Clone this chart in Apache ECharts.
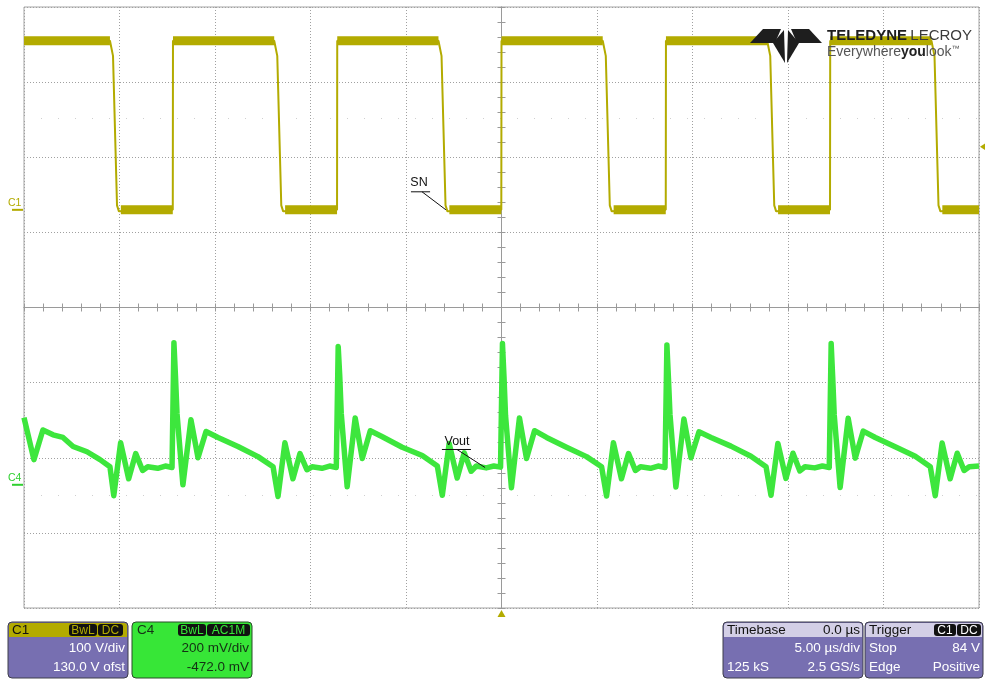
<!DOCTYPE html>
<html><head><meta charset="utf-8">
<script src="https://cdn.jsdelivr.net/npm/echarts@6/dist/echarts.min.js"></script>
<style>html,body{margin:0;padding:0;background:#fff;}#c{width:985px;height:679px;}</style>
</head><body><div id="c"></div>
<script>
// ---------- scope settings ----------
const timeMin = -25, timeMax = 25;          // µs (5.00 µs/div, 10 div)
const c1VoltsPerDiv = 100, c1OffsetV = 130; // C1: 100 V/div, 130.0 V ofst
const c4MvPerDiv = 200, c4OffsetMv = -472;  // C4: 200 mV/div, -472.0 mV
const triggerLevelV = 84;                   // trigger 84 V
const triggerTime = 0;

// ---------- C1 (switch node, V) ----------
const c1Time = [-25, -20.50, -20.34, -20.13, -20.03, -19.93, -17.21, -17.20,
  -11.90, -11.74, -11.53, -11.43, -11.33, -8.61, -8.60,
  -3.30, -3.14, -2.93, -2.83, -2.73, -0.01, 0.00,
  5.30, 5.46, 5.67, 5.77, 5.87, 8.60, 8.61,
  13.91, 14.07, 14.28, 14.38, 14.48, 17.20, 17.21,
  22.51, 22.67, 22.88, 22.98, 23.08, 25];
const c1Volt = [225, 225, 205, 6, -2, 0, 0, 225,
  225, 205, 6, -2, 0, 0, 225,
  225, 205, 6, -2, 0, 0, 225,
  225, 205, 6, -2, 0, 0, 225,
  225, 205, 6, -2, 0, 0, 225,
  225, 205, 6, -2, 0, 0];
const c1Levels = [225, 0];

// ---------- C4 (Vout ripple, mV) ----------
const c4Time = [-25.00, -24.48, -24.01, -23.48, -22.96, -22.43, -21.70, -21.02, -20.50,
  -20.30, -19.94, -19.52, -19.15, -18.79, -18.52, -18.00, -17.60, -17.25,
  -17.20, -17.15, -17.07, -16.99, -16.68, -16.26, -15.89, -15.47, -14.84, -13.80, -12.75, -11.96,
  -11.70, -11.34, -10.92, -10.55, -10.19, -9.92, -9.40, -9.00, -8.65,
  -8.60, -8.55, -8.47, -8.39, -8.08, -7.66, -7.29, -6.87, -6.24, -5.20, -4.15, -3.36,
  -3.10, -2.74, -2.32, -1.95, -1.59, -1.32, -0.80, -0.40, -0.05,
  0.00, 0.05, 0.13, 0.21, 0.52, 0.94, 1.31, 1.73, 2.36, 3.40, 4.45, 5.24,
  5.50, 5.86, 6.28, 6.65, 7.01, 7.28, 7.80, 8.20, 8.56,
  8.61, 8.66, 8.74, 8.82, 9.13, 9.55, 9.92, 10.34, 10.97, 12.01, 13.06, 13.85,
  14.11, 14.47, 14.89, 15.26, 15.62, 15.89, 16.40, 16.80, 17.16,
  17.21, 17.26, 17.34, 17.42, 17.73, 18.15, 18.52, 18.94, 19.57, 20.61, 21.66, 22.45,
  22.71, 23.07, 23.49, 23.86, 24.22, 24.49, 25.00];
const c4Mv = [179, 67, 146, 133, 126, 102, 88, 67, 48,
  -29, 112, 16, 83, 38, 48, 44, 50, 46,
  46, 378, 290, 190, 0, 173, 72, 142, 126, 102, 75, 48,
  -31, 112, 16, 83, 40, 48, 44, 50, 46,
  46, 368, 290, 190, -5, 178, 70, 144, 128, 100, 78, 50,
  -28, 110, 18, 85, 36, 50, 45, 50, 47,
  47, 376, 288, 185, -8, 178, 70, 144, 126, 100, 75, 48,
  -30, 112, 16, 83, 38, 48, 44, 50, 46,
  46, 372, 284, 188, -6, 175, 72, 141, 126, 103, 76, 48,
  -28, 110, 17, 84, 37, 48, 45, 50, 46,
  46, 376, 286, 186, -7, 177, 71, 143, 126, 101, 76, 48,
  -29, 111, 16, 84, 38, 48, 50];

// faint reference dots seen on screen
const c1RefV = 122, c4RefMv = -29;

// ---------- annotations ----------
const snLabel = { text: 'SN', at: [-4.32, 36], under: [[-4.74, 24], [-3.74, 24]], leader: [[-4.16, 24], [-2.91, 0]] };
const voutLabel = { text: 'Vout', at: [-2.33, 116], under: [[-3.12, 94], [-1.60, 94]], leader: [[-2.33, 94], [-0.86, 46]] };

// ---------- info boxes text ----------
const c1Info = ['C1', 'BwL', 'DC', '100 V/div', '130.0 V ofst'];
const c4Info = ['C4', 'BwL', 'AC1M', '200 mV/div', '-472.0 mV'];
const tbInfo = ['Timebase', '0.0 µs', '5.00 µs/div', '125 kS', '2.5 GS/s'];
const trigInfo = ['Trigger', 'C1', 'DC', 'Stop', '84 V', 'Edge', 'Positive'];

const C1_COLOR = '#b3ab00';
const C4_COLOR = '#3de63d';
const FONT = '"Liberation Sans", Arial, sans-serif';

const c1Data = c1Time.map((t, i) => [t, c1Volt[i]]);
// thick noise band only on the flat levels, broken wherever the level changes
const c1Band = [];
let lastLevel = null;
c1Time.forEach((t, i) => {
  const v = c1Volt[i];
  if (c1Levels.indexOf(v) >= 0) {
    if (lastLevel !== null && lastLevel !== v) c1Band.push([t, '-']);
    c1Band.push([t, v]);
    lastLevel = v;
  } else {
    if (lastLevel !== null) c1Band.push([t, '-']);
    lastLevel = null;
  }
});
const c4Data = c4Time.map((t, i) => [t, c4Mv[i]]);

const chart = echarts.init(document.getElementById('c'), null, { renderer: 'canvas' });

const divAxisCommon = {
  type: 'value', axisLabel: { show: false },
  minorTick: { show: true, splitNumber: 5, length: 4, lineStyle: { color: '#9a9a9a', width: 1 } }
};
const gridLine = { show: true, lineStyle: { color: '#a0a0a0', width: 1, type: [1, 2] } };

chart.setOption({
  animation: false,
  backgroundColor: '#ffffff',
  grid: { left: 24, top: 7, width: 955, height: 601, show: true, borderColor: '#a4a4a4', borderWidth: 1, backgroundColor: '#fff' },
  xAxis: [
    { type: 'value', min: timeMin, max: timeMax, show: false },
    Object.assign({}, divAxisCommon, { min: -5, max: 5, interval: 1, position: 'bottom',
      axisLine: { show: true, onZero: true, onZeroAxisIndex: 2, lineStyle: { color: '#9a9a9a', width: 1 } },
      axisTick: { show: true, inside: true, length: 4, lineStyle: { color: '#9a9a9a' } }, splitLine: gridLine }),
    Object.assign({}, divAxisCommon, { min: -5, max: 5, interval: 1, position: 'bottom',
      axisLine: { show: true, onZero: true, onZeroAxisIndex: 2, lineStyle: { color: '#9a9a9a', width: 1 } },
      axisTick: { show: true, inside: false, length: 4, lineStyle: { color: '#9a9a9a' } }, splitLine: { show: false } })
  ],
  yAxis: [
    { type: 'value', min: -c1OffsetV - 4 * c1VoltsPerDiv, max: -c1OffsetV + 4 * c1VoltsPerDiv, show: false },
    { type: 'value', min: -c4OffsetMv - 4 * c4MvPerDiv, max: -c4OffsetMv + 4 * c4MvPerDiv, show: false },
    Object.assign({}, divAxisCommon, { min: -4, max: 4, interval: 1, position: 'left',
      axisLine: { show: true, onZero: true, onZeroAxisIndex: 1, lineStyle: { color: '#9a9a9a', width: 1 } },
      axisTick: { show: true, inside: true, length: 4, lineStyle: { color: '#9a9a9a' } }, splitLine: gridLine }),
    Object.assign({}, divAxisCommon, { min: -4, max: 4, interval: 1, position: 'left',
      axisLine: { show: true, onZero: true, onZeroAxisIndex: 1, lineStyle: { color: '#9a9a9a', width: 1 } },
      axisTick: { show: true, inside: false, length: 4, lineStyle: { color: '#9a9a9a' } }, splitLine: { show: false } })
  ],
  series: [
    { type: 'line', name: 'C1 edges', xAxisIndex: 0, yAxisIndex: 0, data: c1Data, showSymbol: false, symbol: 'none',
      lineStyle: { color: C1_COLOR, width: 2 }, z: 5, silent: true,
      markLine: { silent: true, symbol: 'none', label: { show: false },
        lineStyle: { color: '#cfcfcf', type: [1, 16], width: 1 }, data: [{ yAxis: c1RefV }] } },
    { type: 'line', name: 'C1', xAxisIndex: 0, yAxisIndex: 0, data: c1Band, showSymbol: false, symbol: 'none',
      connectNulls: false, lineStyle: { color: C1_COLOR, width: 9, cap: 'butt' }, z: 5, silent: true },
    { type: 'line', name: 'C4', xAxisIndex: 0, yAxisIndex: 1, data: c4Data, showSymbol: false, symbol: 'none',
      lineStyle: { color: C4_COLOR, width: 5.5, join: 'round' }, z: 5, silent: true,
      markLine: { silent: true, symbol: 'none', label: { show: false },
        lineStyle: { color: '#cfcfcf', type: [1, 16], width: 1 }, data: [{ yAxis: c4RefMv }] } }
  ]
});

// ---------- overlay graphics ----------
const els = [];
function rect(x, y, w, h, fill, r, stroke) {
  els.push({ type: 'rect', shape: { x, y, width: w, height: h, r: r || 0 },
    style: { fill, stroke: stroke || null, lineWidth: stroke ? 1 : 0 }, z: 100, silent: true });
}
function text(x, y, str, fill, align, size, weight) {
  els.push({ type: 'text', x, y, style: { text: str, fill, align: align || 'left', verticalAlign: 'middle',
    font: (weight || 'normal') + ' ' + (size || 13.5) + 'px ' + FONT }, z: 101, silent: true });
}
function line(p1, p2, color, w) {
  els.push({ type: 'line', shape: { x1: p1[0], y1: p1[1], x2: p2[0], y2: p2[1] },
    style: { stroke: color, lineWidth: w || 1 }, z: 90, silent: true });
}
function poly(pts, fill) {
  els.push({ type: 'polygon', shape: { points: pts }, style: { fill }, z: 95, silent: true });
}
const p1 = (d) => chart.convertToPixel({ xAxisIndex: 0, yAxisIndex: 0 }, d);
const p4 = (d) => chart.convertToPixel({ xAxisIndex: 0, yAxisIndex: 1 }, d);

// annotations
[[snLabel, p1], [voutLabel, p4]].forEach(([a, f]) => {
  const t = f(a.at);
  text(t[0], t[1], a.text, '#111', 'center', 12.5);
  line(f(a.under[0]), f(a.under[1]), '#111', 1);
  line(f(a.leader[0]), f(a.leader[1]), '#111', 1);
});

// channel ground markers
const g1 = p1([timeMin, 0]);
text(8, g1[1] - 7, 'C1', C1_COLOR, 'left', 10.5);
line([12, g1[1]], [23, g1[1]], C1_COLOR, 2);
const g4 = p4([timeMin, 0]);
text(8, g4[1] - 7, 'C4', '#2fd02f', 'left', 10.5);
line([12, g4[1]], [23, g4[1]], '#2fd02f', 2);

// trigger level / position markers
const tl = p1([timeMax, triggerLevelV]);
poly([[tl[0] + 1, tl[1]], [tl[0] + 7, tl[1] - 4], [tl[0] + 7, tl[1] + 4]], C1_COLOR);
const tp = p1([triggerTime, -c1OffsetV - 4 * c1VoltsPerDiv]);
poly([[tp[0], tp[1] + 2], [tp[0] - 4, tp[1] + 9], [tp[0] + 4, tp[1] + 9]], C1_COLOR);

// logo
poly([[750, 43], [763, 29], [781, 29], [775, 43]], '#1e1e1e');
poly([[822, 43], [809, 29], [791, 29], [797, 43]], '#1e1e1e');
poly([[773, 43], [784, 30], [785, 63]], '#1e1e1e');
poly([[799, 43], [788, 30], [787, 63]], '#1e1e1e');
els.push({ type: 'text', x: 827, y: 36, z: 101, silent: true, style: {
  text: '{b|TELEDYNE} {r|LECROY}', verticalAlign: 'middle',
  rich: { b: { font: 'bold 15px ' + FONT, fill: '#1e1e1e' }, r: { font: 'normal 15px ' + FONT, fill: '#3a3a3a' } } } });
els.push({ type: 'text', x: 827, y: 52, z: 101, silent: true, style: {
  text: '{a|Everywhere}{b|you}{a|look}{c|™}', verticalAlign: 'middle',
  rich: { a: { font: 'normal 14px ' + FONT, fill: '#555' }, b: { font: 'bold 14px ' + FONT, fill: '#222' },
    c: { font: 'normal 8px ' + FONT, fill: '#555', verticalAlign: 'top' } } } });

// info boxes
const PURPLE = '#776fb1', HEAD = '#d3cfe6', STROKE = '#3e3e4a';
// C1
rect(8, 622, 120, 56, PURPLE, 4, STROKE);
rect(9, 623, 118, 14, C1_COLOR, [3, 3, 0, 0]);
text(12, 630, c1Info[0], '#111');
rect(69, 624, 28, 12, '#111', 3); text(83, 630.5, c1Info[1], C1_COLOR, 'center', 12);
rect(98, 624, 25, 12, '#111', 3); text(110.5, 630.5, c1Info[2], C1_COLOR, 'center', 12);
text(125, 648, c1Info[3], '#fff', 'right');
text(125, 667, c1Info[4], '#fff', 'right');
// C4
rect(132, 622, 120, 56, '#37e637', 4, '#2b4a2b');
text(137, 630, c4Info[0], '#163016');
rect(178, 624, 28, 12, '#111', 3); text(192, 630.5, c4Info[1], '#37e637', 'center', 12);
rect(207, 624, 43, 12, '#111', 3); text(228.5, 630.5, c4Info[2], '#37e637', 'center', 12);
text(249, 648, c4Info[3], '#143014', 'right');
text(249, 667, c4Info[4], '#143014', 'right');
// Timebase
rect(723, 622, 140, 56, PURPLE, 4, STROKE);
rect(724, 623, 138, 14, HEAD, [3, 3, 0, 0]);
text(727, 630, tbInfo[0], '#111'); text(860, 630, tbInfo[1], '#111', 'right');
text(860, 648, tbInfo[2], '#fff', 'right');
text(727, 667, tbInfo[3], '#fff'); text(860, 667, tbInfo[4], '#fff', 'right');
// Trigger
rect(865, 622, 118, 56, PURPLE, 4, STROKE);
rect(866, 623, 116, 14, HEAD, [3, 3, 0, 0]);
text(869, 630, trigInfo[0], '#111');
rect(934, 624, 22, 12, '#111', 3); text(945, 630.5, trigInfo[1], '#fff', 'center', 12);
rect(957, 624, 24, 12, '#111', 3); text(969, 630.5, trigInfo[2], '#fff', 'center', 12);
text(869, 648, trigInfo[3], '#fff'); text(980, 648, trigInfo[4], '#fff', 'right');
text(869, 667, trigInfo[5], '#fff'); text(980, 667, trigInfo[6], '#fff', 'right');

chart.setOption({ graphic: { elements: els } });
</script>
</body></html>
